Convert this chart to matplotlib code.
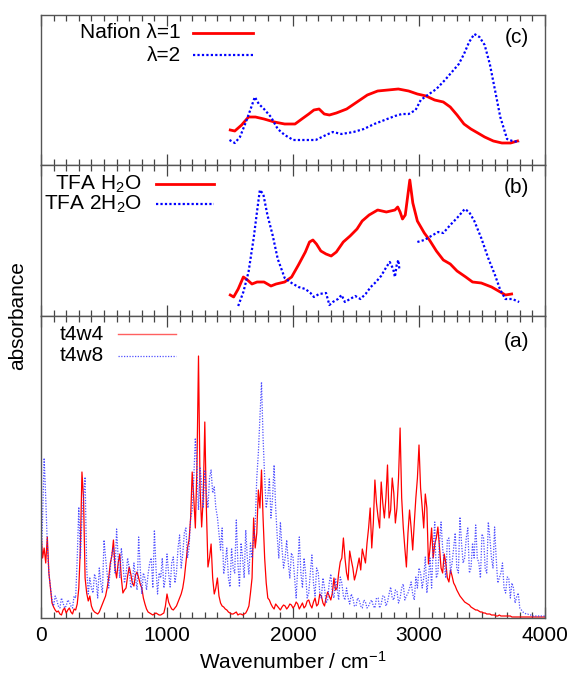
import matplotlib
matplotlib.use("Agg")
import matplotlib.pyplot as plt
from matplotlib.ticker import MultipleLocator, NullLocator

plt.rcParams['font.family'] = ['Liberation Sans', 'DejaVu Sans']
plt.rcParams['mathtext.default'] = 'regular'

# ---------------- data ----------------
# panel (c): Nafion
c_red_x = [1502, 1538, 1592, 1647, 1702, 1770, 1852, 1934, 2016, 2070, 2125, 2166, 2207, 2248, 2289,
           2344, 2426, 2508, 2590, 2672, 2754, 2836, 2918, 2987, 3056, 3124, 3193, 3248, 3302, 3357,
           3412, 3467, 3521, 3590, 3658, 3727, 3782]
c_red_y = [35, 34, 40, 48, 48, 46, 43, 41, 41, 46, 51, 55, 56, 51, 50,
           52, 56, 63, 70, 74, 75, 76, 74, 71, 69, 65, 63, 58, 50, 41,
           36, 32, 28, 24, 22, 22, 24]
c_blue_x = [1496, 1538, 1579, 1620, 1661, 1697, 1729, 1770, 1825, 1879, 1934, 2002, 2098, 2180, 2262,
            2316, 2385, 2480, 2562, 2645, 2727, 2809, 2864, 2918, 2973, 3014, 3069, 3138, 3206, 3261,
            3316, 3357, 3398, 3439, 3480, 3521, 3562, 3603, 3645, 3699, 3741, 3795]
c_blue_y = [25, 22, 28, 41, 55, 68, 61, 56, 48, 36, 30, 25, 25, 25, 30,
            33, 31, 33, 36, 41, 45, 49, 51, 51, 55, 65, 70, 76, 85, 93,
            101, 111, 123, 131, 128, 120, 101, 75, 48, 26, 24, 23]

# panel (b): TFA hydrates
b_red_x = [1502, 1529, 1565, 1606, 1639, 1674, 1715, 1770, 1825, 1866, 1934, 1989, 2043, 2098, 2131,
           2158, 2186, 2221, 2262, 2303, 2344, 2399, 2453, 2508, 2549, 2604, 2672, 2741, 2809, 2831,
           2850, 2869, 2891, 2927, 2951, 2987, 3042, 3083, 3138, 3193, 3248, 3302, 3371, 3425, 3494,
           3576, 3645, 3686, 3735]
b_red_y = [21, 19, 27, 39, 36, 32, 34, 34, 30, 32, 34, 39, 51, 64, 74,
           76, 72, 65, 62, 60, 64, 74, 80, 87, 95, 101, 106, 104, 106, 109,
           104, 97, 101, 136, 113, 95, 83, 76, 65, 56, 52, 45, 39, 34, 33,
           29, 24, 21, 22]
b_blue1_x = [1565, 1606, 1647, 1688, 1715, 1737, 1764, 1797, 1838, 1879, 1934, 1989, 2043, 2098, 2139,
             2166, 2207, 2262, 2289, 2316, 2357, 2385, 2412, 2453, 2494, 2535, 2576, 2617, 2658, 2699,
             2741, 2768, 2795, 2809, 2823, 2836, 2845]
b_blue1_y = [10, 24, 44, 78, 105, 126, 122, 101, 81, 57, 38, 33, 29, 27, 23,
             19, 22, 23, 11, 14, 17, 21, 14, 17, 20, 17, 22, 29, 34, 40,
             49, 54, 47, 39, 51, 56, 46]
b_blue2_x = [2987, 3042, 3097, 3152, 3193, 3248, 3302, 3363, 3398, 3439, 3494, 3549, 3603, 3645, 3686,
             3741, 3795]
b_blue2_y = [74, 76, 80, 84, 83, 91, 98, 107, 104, 95, 78, 58, 41, 26, 17,
             17, 14]

# panel (a): t4w4 / t4w8, read every 25 cm-1 (0..4000) plus readings half-way between
a_x = list(range(0, 4001, 25))
a_red = [87, 70, 81, 30, 11, 6, 4, 8, 5, 10, 4, 8, 30, 146, 40, 17, 12, 6, 4, 10,
         18, 30, 55, 78, 40, 64, 25, 30, 51, 35, 43, 40, 30, 14, 6, 4, 4, 4, 3, 5,
         24, 12, 8, 12, 20, 30, 55, 78, 146, 90, 262, 91, 196, 51, 74, 24, 40, 15, 11, 8,
         5, 4, 6, 4, 3, 5, 12, 40, 70, 128, 148, 60, 20, 14, 9, 12, 8, 13, 9, 14,
         10, 16, 9, 15, 12, 18, 10, 20, 14, 22, 12, 26, 18, 40, 30, 56, 80, 45, 67, 50,
         44, 60, 69, 55, 90, 70, 138, 101, 136, 100, 153, 108, 125, 110, 190, 91, 51, 108, 68, 120,
         173, 111, 124, 54, 90, 74, 91, 50, 64, 40, 48, 35, 28, 22, 18, 15, 13, 10, 8, 7,
         6, 5, 4, 3, 3, 2, 2, 2, 2, 2, 1, 1, 1, 1, 1, 1, 1, 1, 1, 1,
         1]
a_red_mid = [60, 55, 45, 15, 8, 7, 3, 10, 8, 6, 9, 14, 70, 120, 25, 22, 8, 5, 6, 14,
             22, 40, 62, 50, 55, 40, 28, 42, 44, 32, 46, 34, 20, 9, 5, 3, 5, 3, 4, 12,
             16, 9, 10, 16, 24, 40, 70, 100, 120, 150, 130, 120, 110, 60, 40, 30, 22, 12, 9, 6,
             4, 5, 3, 4, 4, 8, 25, 100, 85, 110, 100, 35, 18, 11, 14, 10, 11, 12, 11, 13,
             12, 14, 12, 10, 17, 13, 16, 12, 24, 15, 20, 22, 25, 28, 45, 60, 60, 38, 58, 38,
             52, 48, 62, 75, 110, 95, 115, 90, 115, 120, 100, 140, 95, 140, 120, 70, 85, 90, 95, 140,
             130, 90, 110, 70, 60, 80, 70, 45, 55, 36, 42, 32, 25, 20, 16, 14, 11, 9, 8, 6,
             5, 4, 4, 3, 2, 3, 2, 2, 2, 1, 1, 1, 1, 1, 1, 1, 1, 1, 1, 1]
a_blue = [40, 160, 74, 31, 12, 18, 10, 15, 12, 16, 10, 20, 111, 100, 141, 24, 30, 44, 20, 35,
          78, 44, 50, 70, 89, 40, 55, 44, 50, 34, 40, 81, 24, 40, 44, 60, 88, 24, 40, 30,
          64, 31, 61, 45, 83, 64, 90, 70, 108, 180, 108, 134, 148, 110, 148, 131, 101, 68, 44, 70,
          31, 50, 98, 31, 60, 88, 44, 60, 94, 165, 236, 141, 121, 100, 153, 81, 96, 50, 78, 40,
          61, 20, 81, 30, 45, 25, 63, 22, 46, 20, 30, 18, 44, 20, 30, 41, 22, 30, 14, 20,
          12, 18, 10, 16, 12, 18, 10, 20, 14, 22, 16, 31, 18, 27, 20, 34, 22, 30, 24, 41,
          50, 30, 61, 40, 30, 96, 45, 96, 55, 78, 45, 70, 50, 101, 55, 80, 45, 75, 93, 55,
          84, 50, 96, 60, 91, 35, 45, 30, 41, 20, 30, 21, 10, 6, 4, 3, 2, 2, 2, 2,
          2]
a_blue_mid = [100, 120, 45, 18, 22, 12, 20, 10, 18, 12, 22, 60, 60, 120, 50, 40, 25, 38, 50, 25,
              60, 30, 65, 45, 60, 70, 35, 60, 30, 55, 28, 50, 45, 28, 55, 30, 50, 45, 60, 40,
              45, 55, 35, 70, 50, 85, 60, 100, 140, 150, 150, 110, 125, 140, 125, 110, 85, 90, 55, 40,
              70, 45, 55, 75, 40, 60, 75, 80, 140, 200, 180, 110, 140, 120, 110, 60, 70, 60, 55, 65,
              40, 50, 45, 60, 20, 45, 35, 50, 25, 40, 15, 35, 25, 40, 18, 35, 18, 20, 24, 12,
              20, 12, 18, 10, 16, 12, 20, 10, 22, 12, 24, 20, 28, 15, 30, 18, 25, 36, 18, 30,
              45, 40, 25, 60, 70, 40, 75, 70, 40, 80, 55, 85, 45, 75, 60, 90, 50, 60, 60, 40,
              80, 45, 80, 50, 60, 40, 55, 25, 40, 35, 15, 25, 8, 5, 4, 3, 2, 2, 2, 2]

xticks = [0, 1000, 2000, 3000, 4000]

# combine the on-grid and half-way readings into one series each
a_x_mid = [x + 12.5 for x in a_x[:-1]]
def merge(xa, ya, xb, yb):
    pts = sorted(zip(list(xa) + list(xb), list(ya) + list(yb)))
    return [p[0] for p in pts], [p[1] for p in pts]

a_rx, a_ry = merge(a_x, a_red, a_x_mid, a_red_mid)
a_bx, a_by = merge(a_x, a_blue, a_x_mid, a_blue_mid)

# ---------------- figure ----------------
W, H = 574, 684
fig = plt.figure(figsize=(W / 100, H / 100), dpi=100)

def rect(top, bottom):
    return [41 / W, 1 - bottom / H, 504 / W, (bottom - top) / H]

ax_c = fig.add_axes(rect(15, 165))
ax_b = fig.add_axes(rect(165, 316))
ax_a = fig.add_axes(rect(316, 618))

RED = '#ff0000'
BLUE = '#0000ff'
dot = (0, (1, 1))
FS = 15

ax_c.plot(c_red_x, c_red_y, color=RED, lw=2.0, solid_joinstyle='round')
ax_c.plot(c_blue_x, c_blue_y, color=BLUE, lw=1.6, ls=dot)

ax_b.plot(b_red_x, b_red_y, color=RED, lw=2.0, solid_joinstyle='round')
ax_b.plot(b_blue1_x, b_blue1_y, color=BLUE, lw=1.6, ls=dot)
ax_b.plot(b_blue2_x, b_blue2_y, color=BLUE, lw=1.6, ls=dot)

ax_a.plot(a_rx, a_ry, color=RED, lw=0.9)
ax_a.plot(a_bx, a_by, color='#3030ff', lw=0.9, ls=(0, (1, 1.2)), alpha=0.85)

ax_c.set_ylim(0, 150)
ax_b.set_ylim(0, 151)
ax_a.set_ylim(0, 302)

for ax in (ax_a, ax_b, ax_c):
    ax.set_xlim(0, 4000)
    ax.set_xticks(xticks)
    ax.xaxis.set_minor_locator(MultipleLocator(100))
    ax.yaxis.set_major_locator(NullLocator())
    ax.tick_params(axis='x', which='both', direction='in', top=True, bottom=True,
                   color='#444444', width=0.9)
    ax.tick_params(axis='x', which='major', length=8)
    ax.tick_params(axis='x', which='minor', length=4)
    for s in ax.spines.values():
        s.set_color('#555555')
        s.set_linewidth(1.0)

for ax in (ax_b, ax_c):
    ax.tick_params(axis='x', labelbottom=False)

ax_a.tick_params(axis='x', which='major', labelsize=FS, pad=6)
ax_a.set_xlabel('Wavenumber / cm$^{-1}$', fontsize=FS, labelpad=4)
fig.text(18 / W, 1 - 316 / H, 'absorbance', rotation=90, ha='center', va='center', fontsize=FS)

# ---------------- legends / panel labels ----------------
def legend_entry(ax, text, ytext, xr, x0, x1, color, lw, ls):
    ax.text(xr, ytext, text, transform=ax.transAxes, ha='right', va='center', fontsize=FS)
    ax.plot([x0, x1], [ytext, ytext], transform=ax.transAxes, color=color, lw=lw, ls=ls,
            clip_on=False)

legend_entry(ax_c, 'Nafion λ=1', 0.88, 0.278, 0.302, 0.421, RED, 2.0, '-')
legend_entry(ax_c, 'λ=2', 0.733, 0.278, 0.302, 0.421, BLUE, 1.6, dot)
ax_c.text(0.944, 0.847, '(c)', transform=ax_c.transAxes, ha='center', va='center', fontsize=FS)

legend_entry(ax_b, 'TFA H$_2$O', 0.874, 0.200, 0.228, 0.343, RED, 2.0, '-')
legend_entry(ax_b, 'TFA 2H$_2$O', 0.742, 0.200, 0.228, 0.343, BLUE, 1.6, dot)
ax_b.text(0.944, 0.848, '(b)', transform=ax_b.transAxes, ha='center', va='center', fontsize=FS)

legend_entry(ax_a, 't4w4', 0.940, 0.125, 0.153, 0.268, '#ff6060', 1.0, '-')
legend_entry(ax_a, 't4w8', 0.868, 0.125, 0.153, 0.268, '#5050ff', 0.9, (0, (1, 1.2)))
ax_a.text(0.944, 0.914, '(a)', transform=ax_a.transAxes, ha='center', va='center', fontsize=FS)

fig.savefig('out.png', dpi=100)
